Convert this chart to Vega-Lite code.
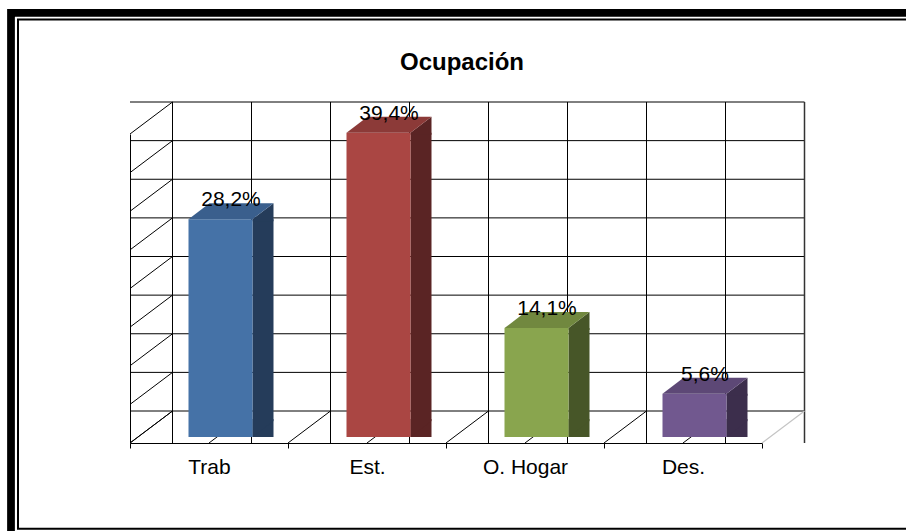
{
  "$schema": "https://vega.github.io/schema/vega-lite/v6.json",
  "width": 632,
  "height": 309,
  "autosize": {"type": "none"},
  "padding": {"left": 130, "top": 134, "right": 144, "bottom": 88},
  "background": "white",
  "title": {"text": "Ocupación", "font": "Liberation Sans", "fontSize": 24, "fontWeight": "bold", "color": "black", "anchor": "middle", "frame": "group", "dx": 16, "baseline": "alphabetic", "offset": -84.7},
  "datasets": {
    "ocup": [
      {"cat": "Trab", "v": 0.282},
      {"cat": "Est.", "v": 0.394},
      {"cat": "O. Hogar", "v": 0.141},
      {"cat": "Des.", "v": 0.056}
    ],
    "grid": [
      {"g": 0}, {"g": 0.05}, {"g": 0.1}, {"g": 0.15}, {"g": 0.2}, {"g": 0.25}, {"g": 0.3}, {"g": 0.35}, {"g": 0.4}
    ]
  },
  "config": {
    "view": {"stroke": null},
    "scale": {"bandPaddingInner": 0, "bandPaddingOuter": 0},
    "locale": {"number": {"decimal": ",", "thousands": ".", "grouping": [3], "currency": ["", " €"]}},
    "font": "Liberation Sans",
    "axis": {"titleColor": "transparent", "grid": false},
    "axisX": {"domain": true, "domainColor": "black", "domainWidth": 1, "ticks": true, "tickColor": "black", "tickSize": 5, "tickWidth": 1, "tickBand": "extent", "labelFontSize": 21, "labelFont": "Liberation Sans", "labelColor": "black", "labelPadding": 25, "labelBaseline": "alphabetic", "labelAngle": 0, "zindex": 1},
    "axisY": {"domain": true, "domainColor": "black", "domainWidth": 1, "ticks": false, "labels": false, "zindex": 1}
  },
  "resolve": {"scale": {"color": "independent"}},
  "layer": [
    {
      "data": {"values": [{}]},
      "mark": {"type": "rect", "filled": false, "stroke": "black", "strokeWidth": 7.75},
      "encoding": {"x": {"value": -119}, "y": {"value": -121.25}, "x2": {"value": 840}, "y2": {"value": 420}}
    },
    {
      "data": {"values": [{}]},
      "mark": {"type": "rect", "filled": false, "stroke": "black", "strokeWidth": 2},
      "encoding": {"x": {"value": -112}, "y": {"value": -114.5}, "x2": {"value": 830}, "y2": {"value": 394.8}}
    },
    {
      "data": {"name": "grid"},
      "mark": {"type": "rule", "color": "black", "strokeWidth": 1, "xOffset": 42.5, "x2Offset": 42.5, "yOffset": -32, "y2Offset": -32},
      "encoding": {
        "y": {"field": "g", "type": "quantitative", "title": null, "scale": {"domain": [0, 0.4], "nice": false, "zero": true}}
      }
    },
    {
      "data": {"name": "ocup"},
      "mark": {"type": "rule", "color": "black", "strokeWidth": 1, "xOffset": 42.5, "yOffset": -32, "y2Offset": -32},
      "encoding": {"x": {"field": "cat", "type": "nominal", "bandPosition": 0, "sort": null, "title": null}}
    },
    {
      "data": {"name": "ocup"},
      "mark": {"type": "rule", "color": "black", "strokeWidth": 1, "xOffset": 42.5, "yOffset": -32, "y2Offset": -32},
      "encoding": {"x": {"field": "cat", "type": "nominal", "bandPosition": 0.5, "sort": null, "title": null}}
    },
    {
      "data": {"values": [{}]},
      "mark": {"type": "rule", "color": "#333333", "strokeWidth": 1.5, "xOffset": 42.5, "yOffset": -32, "y2Offset": -32},
      "encoding": {"x": {"value": "width"}}
    },
    {
      "data": {"name": "grid"},
      "mark": {"type": "rule", "color": "black", "strokeWidth": 1, "x2Offset": 42.5, "y2Offset": -32},
      "encoding": {
        "x": {"value": 0}, "x2": {"value": 0},
        "y": {"field": "g", "type": "quantitative", "title": null}, "y2": {"field": "g"}
      }
    },
    {
      "data": {"name": "ocup"},
      "mark": {"type": "rule", "color": "black", "strokeWidth": 1, "x2Offset": 42.5, "y2Offset": -32},
      "encoding": {
        "x": {"field": "cat", "type": "nominal", "bandPosition": 0, "sort": null, "title": null},
        "x2": {"field": "cat", "bandPosition": 0},
        "y": {"datum": 0, "type": "quantitative", "title": null}, "y2": {"datum": 0}
      }
    },
    {
      "data": {"name": "ocup"},
      "mark": {"type": "rule", "color": "black", "strokeWidth": 1, "x2Offset": 42.5, "y2Offset": -32},
      "encoding": {
        "x": {"field": "cat", "type": "nominal", "bandPosition": 0.5, "sort": null, "title": null},
        "x2": {"field": "cat", "bandPosition": 0.5},
        "y": {"datum": 0, "type": "quantitative", "title": null}, "y2": {"datum": 0}
      }
    },
    {
      "data": {"values": [{}]},
      "mark": {"type": "rule", "color": "#c4c4c4", "strokeWidth": 1.2, "x2Offset": 42.5, "y2Offset": -32},
      "encoding": {
        "x": {"value": "width"}, "x2": {"value": "width"},
        "y": {"datum": 0, "type": "quantitative", "title": null}, "y2": {"datum": 0}
      }
    },
    {
      "data": {"name": "ocup"},
      "mark": {"type": "bar", "width": 21, "xOffset": 54, "yOffset": -6, "y2Offset": -22},
      "encoding": {
        "x": {"field": "cat", "type": "nominal", "sort": null, "title": null},
        "y": {"field": "v", "type": "quantitative", "title": null},
        "color": {"field": "cat", "type": "nominal", "legend": null,
          "scale": {"domain": ["Trab", "Est.", "O. Hogar", "Des."], "range": ["#253C5A", "#5A2424", "#475628", "#3C2E4C"]}}
      }
    },
    {
      "data": {"name": "ocup"},
      "mark": {"type": "point", "shape": "M32,0L53,-16L53,2L32,2Z", "size": 4, "filled": true, "opacity": 1, "strokeWidth": 0, "xOffset": 11.5, "yOffset": -6},
      "encoding": {
        "x": {"field": "cat", "type": "nominal", "sort": null, "title": null},
        "y": {"field": "v", "type": "quantitative", "title": null},
        "color": {"field": "cat", "type": "nominal", "legend": null,
          "scale": {"domain": ["Trab", "Est.", "O. Hogar", "Des."], "range": ["#253C5A", "#5A2424", "#475628", "#3C2E4C"]}}
      }
    },
    {
      "data": {"name": "ocup"},
      "mark": {"type": "point", "shape": "M32,-18L53,-18L53,-16L32,0Z", "size": 4, "filled": true, "opacity": 1, "strokeWidth": 0, "xOffset": 11.5, "yOffset": -6},
      "encoding": {
        "x": {"field": "cat", "type": "nominal", "sort": null, "title": null},
        "y": {"datum": 0, "type": "quantitative", "title": null},
        "color": {"field": "cat", "type": "nominal", "legend": null,
          "scale": {"domain": ["Trab", "Est.", "O. Hogar", "Des."], "range": ["#253C5A", "#5A2424", "#475628", "#3C2E4C"]}}
      }
    },
    {
      "data": {"name": "ocup"},
      "mark": {"type": "bar", "width": 64, "xOffset": 11.5, "yOffset": -6, "y2Offset": -6},
      "encoding": {
        "x": {"field": "cat", "type": "nominal", "sort": null, "title": null},
        "y": {"field": "v", "type": "quantitative", "title": null},
        "color": {"field": "cat", "type": "nominal", "legend": null,
          "scale": {"domain": ["Trab", "Est.", "O. Hogar", "Des."], "range": ["#4572A7", "#AA4643", "#89A54E", "#71588F"]}}
      }
    },
    {
      "data": {"name": "ocup"},
      "mark": {"type": "point", "shape": "M-32,0L32,0L53,-16L-11,-16Z", "size": 4, "filled": true, "opacity": 1, "strokeWidth": 0, "xOffset": 11.5, "yOffset": -6},
      "encoding": {
        "x": {"field": "cat", "type": "nominal", "sort": null, "title": null},
        "y": {"field": "v", "type": "quantitative", "title": null},
        "color": {"field": "cat", "type": "nominal", "legend": null,
          "scale": {"domain": ["Trab", "Est.", "O. Hogar", "Des."], "range": ["#3A5F8D", "#8C3A38", "#71883F", "#5D4876"]}}
      }
    },
    {
      "data": {"name": "ocup"},
      "mark": {"type": "text", "font": "Liberation Sans", "fontSize": 21, "color": "black", "align": "center", "baseline": "alphabetic", "xOffset": 22, "yOffset": -19},
      "encoding": {
        "x": {"field": "cat", "type": "nominal", "sort": null, "title": null},
        "y": {"field": "v", "type": "quantitative", "title": null},
        "text": {"field": "v", "type": "quantitative", "format": ".1%"}
      }
    }
  ]
}
